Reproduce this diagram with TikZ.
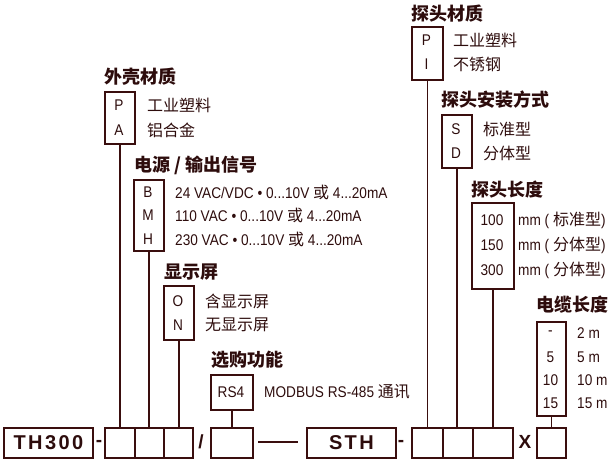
\documentclass[tikz,border=0pt]{standalone}
\usepackage{fontspec}
\setmainfont{Liberation Sans}
\newfontfamily\narrowfont[FakeStretch=0.88]{Liberation Sans}
\newfontfamily\cjkfont{Noto Sans CJK SC}
\newfontfamily\codefont[LetterSpace=12]{Liberation Sans}
\newcommand\zh[1]{{\cjkfont\fontsize{16}{16}\selectfont #1}}
\usepackage{tikz}
\definecolor{mc}{RGB}{58,14,14}
\definecolor{tc}{RGB}{45,12,12}
\begin{document}
\begin{tikzpicture}[x=1pt,y=-1pt,
  box/.style={draw=mc,line width=1.8pt,fill=white,inner sep=0pt,anchor=north west},
  lbl/.style={anchor=west,inner sep=0pt,text=tc,font=\fontsize{15.5}{16}\narrowfont},
  opt/.style={inner sep=0pt,text=tc,font=\fontsize{15.5}{16}\narrowfont},
  ttl/.style={anchor=west,inner sep=0pt,text=tc,font=\fontsize{18}{18}\selectfont\cjkfont\bfseries},
  sep/.style={inner sep=0pt,text=tc,font=\fontsize{19}{19}\selectfont\bfseries},
  code/.style={text=tc,font=\fontsize{20}{20}\selectfont\codefont\bfseries},
  conn/.style={draw=mc,line width=1.6pt}]
\useasboundingbox (0,0) rectangle (611,461);
% bottom row
\node[box,minimum width=89pt,minimum height=30pt] (th) at (3,427) {};
\node[code] (thtxt) at (th.center) {TH300};
\node[box,minimum width=30pt,minimum height=30pt] (b1) at (104,427) {};
\node[box,minimum width=29pt,minimum height=30pt] (b2) at (134,427) {};
\node[box,minimum width=29pt,minimum height=30pt] (b3) at (163,427) {};
\node[box,minimum width=42pt,minimum height=30pt] (b4) at (210,427) {};
\node[box,minimum width=89pt,minimum height=30pt] (sth) at (306,427) {};
\node[code] (sthtxt) at (sth.center) {STH};
\node[box,minimum width=31pt,minimum height=30pt] (c1) at (411,427) {};
\node[box,minimum width=30pt,minimum height=30pt] (c2) at (442,427) {};
\node[box,minimum width=40pt,minimum height=30pt] (c3) at (472,427) {};
\node[box,minimum width=29pt,minimum height=30pt] (c4) at (536,427) {};
\node[sep] (s1) at (99,443) {-};
\node[sep] (s2) at (201,442) {/};
\node[sep] (s3) at (401,443) {-};
\node[sep] (s4) at (525,442) {X};
\coordinate (la) at (258,442);
\coordinate (lb) at (298,442);
\draw[conn] (la) -- (lb);
% option boxes
\node[box,minimum width=30pt,minimum height=52pt] (oA) at (104,91) {};
\node[box,minimum width=30pt,minimum height=71pt] (oB) at (133,179) {};
\node[box,minimum width=30pt,minimum height=54pt] (oC) at (163,285) {};
\node[box,minimum width=42pt,minimum height=35pt] (oD) at (210,374) {};
\node[box,minimum width=31pt,minimum height=53pt] (oE) at (411,26) {};
\node[box,minimum width=30pt,minimum height=53pt] (oF) at (441,114) {};
\node[box,minimum width=42pt,minimum height=86pt] (oG) at (471,202) {};
\node[box,minimum width=29pt,minimum height=94pt] (oH) at (536,321) {};
% connectors
\draw[conn] (oA.south) -- (oA.south |- b1.north);
\draw[conn] (oB.south) -- (oB.south |- b2.north);
\draw[conn] (oC.south) -- (oC.south |- b3.north);
\draw[conn] (oD.south) -- (oD.south |- b4.north);
\draw[conn] (oE.south) -- (oE.south |- c1.north);
\draw[conn] (oF.south) -- (oF.south |- c2.north);
\draw[conn] (oG.south) -- (oG.south |- c3.north);
\draw[conn] (oH.south) -- (oH.south |- c4.north);
% titles
\node[ttl] (tA) at (104,77) {外壳材质};
\node[ttl] (tB) at (134,165) {电源 / 输出信号};
\node[ttl] (tC) at (164,272) {显示屏};
\node[ttl] (tD) at (211,360) {选购功能};
\node[ttl] (tE) at (411,14) {探头材质};
\node[ttl] (tF) at (441,100) {探头安装方式};
\node[ttl] (tG) at (471,190) {探头长度};
\node[ttl] (tH) at (536,305) {电缆长度};
% codes in boxes
\node[opt] (pA1) at (119,105) {P};
\node[opt] (pA2) at (119,130) {A};
\node[opt] (pB1) at (148,192) {B};
\node[opt] (pB2) at (148,215) {M};
\node[opt] (pB3) at (148,239) {H};
\node[opt] (pC1) at (178,301) {O};
\node[opt] (pC2) at (178,325) {N};
\node[opt] (pD1) at (231,392) {RS4};
\node[opt] (pE1) at (426.5,40) {P};
\node[opt] (pE2) at (426.5,64) {I};
\node[opt] (pF1) at (456,129) {S};
\node[opt] (pF2) at (456,153) {D};
\node[opt] (pG1) at (492,220) {100};
\node[opt] (pG2) at (492,245) {150};
\node[opt] (pG3) at (492,270) {300};
\node[opt] (pH1) at (550.5,333) {-};
\node[opt] (pH2) at (550.5,357) {5};
\node[opt] (pH3) at (550.5,380) {10};
\node[opt] (pH4) at (550.5,403) {15};
% descriptions
\node[lbl] (dA1) at (147,105) {\zh{工业塑料}};
\node[lbl] (dA2) at (147,130) {\zh{铝合金}};
\node[lbl] (dB1) at (175,192) {24 VAC/VDC • 0...10V \zh{或} 4...20mA};
\node[lbl] (dB2) at (175,215) {110 VAC • 0...10V \zh{或} 4...20mA};
\node[lbl] (dB3) at (175,239) {230 VAC • 0...10V \zh{或} 4...20mA};
\node[lbl] (dC1) at (205,301) {\zh{含显示屏}};
\node[lbl] (dC2) at (205,325) {\zh{无显示屏}};
\node[lbl] (dD1) at (264,392) {MODBUS RS-485 \zh{通讯}};
\node[lbl] (dE1) at (453,40) {\zh{工业塑料}};
\node[lbl] (dE2) at (453,64) {\zh{不锈钢}};
\node[lbl] (dF1) at (483,129) {\zh{标准型}};
\node[lbl] (dF2) at (483,153) {\zh{分体型}};
\node[lbl] (dG1) at (518,220) {mm ( \zh{标准型})};
\node[lbl] (dG2) at (518,245) {mm ( \zh{分体型})};
\node[lbl] (dG3) at (518,270) {mm ( \zh{分体型})};
\node[lbl] (dH1) at (577,333) {2 m};
\node[lbl] (dH2) at (577,357) {5 m};
\node[lbl] (dH3) at (577,380) {10 m};
\node[lbl] (dH4) at (577,403) {15 m};
\end{tikzpicture}
\end{document}
